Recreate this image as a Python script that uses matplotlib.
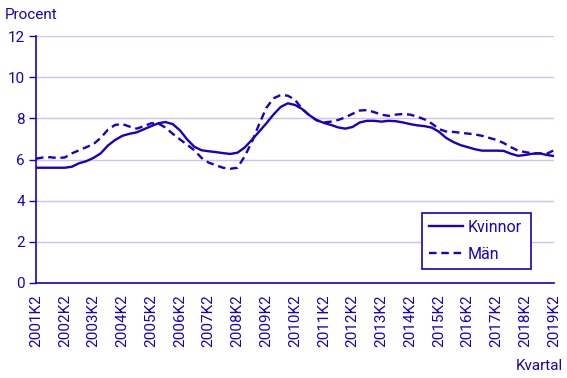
import numpy as np
import matplotlib
matplotlib.use("Agg")
from matplotlib import pyplot as plt

# quarters 2001K2 .. 2019K2
quarters = [f"{y}K{q}" for y in range(2001, 2020) for q in range(1, 5)]
quarters = quarters[1:quarters.index("2019K2") + 1]

kvinnor = [5.60, 5.60, 5.60, 5.60, 5.60, 5.65, 5.82, 5.92, 6.08, 6.30,
           6.68, 6.95, 7.15, 7.25, 7.32, 7.47, 7.62, 7.76, 7.82, 7.72,
           7.42, 6.98, 6.62, 6.45, 6.40, 6.36, 6.31, 6.27, 6.33, 6.58,
           6.95, 7.35, 7.75, 8.18, 8.55, 8.73, 8.65, 8.45, 8.15, 7.92,
           7.78, 7.68, 7.56, 7.50, 7.58, 7.80, 7.88, 7.88, 7.84, 7.88,
           7.86, 7.80, 7.72, 7.66, 7.62, 7.55, 7.35, 7.05, 6.85, 6.70,
           6.60, 6.50, 6.43, 6.43, 6.43, 6.42, 6.28, 6.18, 6.22, 6.28,
           6.30, 6.22, 6.17]
man = [6.04, 6.10, 6.11, 6.07, 6.10, 6.30, 6.45, 6.60, 6.75, 7.05,
       7.45, 7.68, 7.72, 7.60, 7.50, 7.62, 7.76, 7.75, 7.55, 7.25,
       6.98, 6.72, 6.45, 6.08, 5.85, 5.72, 5.60, 5.55, 5.60, 6.15,
       6.85, 7.70, 8.50, 8.97, 9.13, 9.10, 8.90, 8.45, 8.15, 7.90,
       7.80, 7.84, 7.92, 8.05, 8.22, 8.38, 8.40, 8.30, 8.18, 8.12,
       8.18, 8.21, 8.18, 8.08, 7.95, 7.75, 7.48, 7.36, 7.34, 7.30,
       7.26, 7.22, 7.15, 7.05, 6.95, 6.80, 6.60, 6.43, 6.36, 6.30,
       6.30, 6.28, 6.45]

blue = "#1a00c2"
grid = "#c9c5ee"
plt.rcParams["font.family"] = ["Roboto", "DejaVu Sans"]

fig = plt.figure(figsize=(5.67, 3.78), dpi=100)
ax = fig.add_axes([36 / 567, 1 - 283 / 378, (554 - 36) / 567, (283 - 36) / 378])

x = np.arange(len(quarters))
ax.plot(x, kvinnor, color=blue, lw=1.7, label="Kvinnor")
ax.plot(x, man, color=blue, lw=1.7, ls=(0, (3.2, 2)), label="Män")

ax.set_xlim(0, len(quarters) - 1)
ax.set_ylim(0, 12)
ax.set_yticks(range(0, 13, 2))
ax.yaxis.grid(True, color=grid, lw=1)
ax.set_axisbelow(True)

# a label every year, a tick mark every third year
labels_pos = [i for i, q in enumerate(quarters) if q.endswith("K2")]
ax.set_xticks(labels_pos)
ax.set_xticklabels([quarters[i] for i in labels_pos], rotation=90)
ax.set_xticks(labels_pos[::3], minor=True)
ax.tick_params(axis="x", which="major", length=0, pad=8)
ax.tick_params(axis="x", which="minor", length=5, color=blue, width=1)
ax.tick_params(axis="y", length=5, color=blue, width=1, pad=3)
ax.tick_params(labelsize=11, labelcolor=blue)

for s in ["top", "right"]:
    ax.spines[s].set_visible(False)
for s in ["left", "bottom"]:
    ax.spines[s].set_color(blue)
    ax.spines[s].set_linewidth(1.2)

fig.text(5 / 567, 1 - 15 / 378, "Procent", color=blue, fontsize=11, va="center", ha="left")
fig.text(563 / 567, 1 - 366 / 378, "Kvartal", color=blue, fontsize=11, va="center", ha="right")

leg = ax.legend(loc="lower left", bbox_to_anchor=((422 - 36) / 518, (283 - 269) / 247,
                (531 - 422) / 518, (269 - 210) / 247), mode="expand",
                fancybox=False, framealpha=1, edgecolor=blue, fontsize=11.5,
                handlelength=2.1, handletextpad=0.3, labelspacing=0.75,
                borderpad=0.45, borderaxespad=0, labelcolor=blue)
leg.get_frame().set_linewidth(1.2)

fig.savefig("out.png", dpi=100)
